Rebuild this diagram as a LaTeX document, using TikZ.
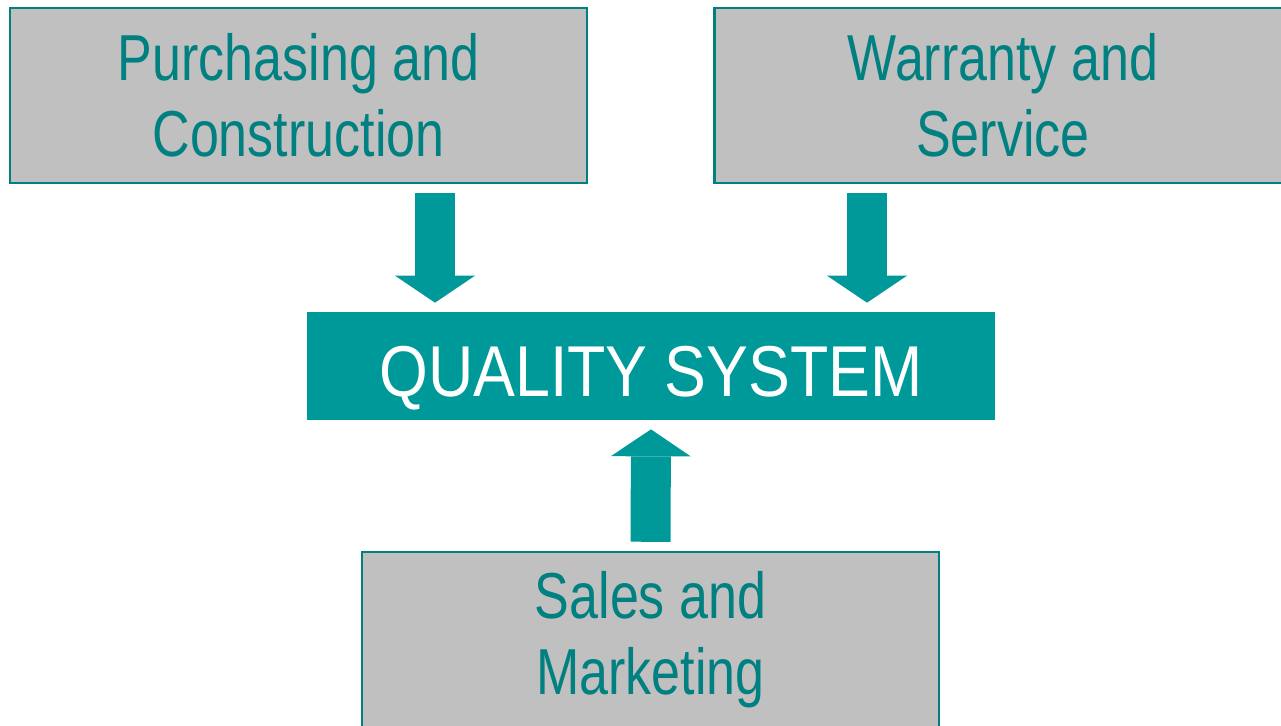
\documentclass[tikz,border=0pt]{standalone}
\usepackage{fontspec}
\setmainfont{Liberation Sans}[FakeStretch=0.8]
\newfontfamily\qsfont{Liberation Sans}[FakeStretch=0.87]
\usetikzlibrary{arrows.meta}
\definecolor{tealline}{HTML}{008080}
\definecolor{tealfill}{HTML}{009999}
\definecolor{boxgray}{HTML}{C0C0C0}
\tikzset{
  dept/.style={draw=tealline, line width=0.05cm, fill=boxgray, text=tealline,
    minimum width=11.54cm, minimum height=3.5cm, inner sep=0pt, align=center,
    font=\fontsize{37}{43}\selectfont},
  core/.style={fill=tealfill, text=white, minimum width=13.76cm,
    minimum height=2.16cm, inner sep=0pt, text height=1.2cm, text depth=0cm,
    font=\qsfont\fontsize{41}{48}\selectfont},
  flow/.style={draw=tealfill, line width=0.8cm,
    -{Triangle[length=0.54cm, width=1.6cm, line width=0pt]},
    shorten <=0.18cm, shorten >=0.18cm}
}
\begin{document}
\begin{tikzpicture}[x=0.02cm, y=-0.02cm]
\clip (0,0) rectangle (1281,725);
\node[dept] (purch) at (298.5,95.5) {Purchasing and\\Construction};
\node[dept] (warr) at (1003,95.5) {Warranty and\\Service};
\node[core] (qual) at (651,366) {QUALITY SYSTEM};
\node[dept] (sales) at (650.5,639.5) {Sales and\\Marketing};
% arrow columns
\coordinate (lcol) at (435,0);
\coordinate (rcol) at (867,0);
\draw[flow] (purch.south -| lcol) -- (qual.north -| lcol);
\draw[flow] (warr.south -| rcol) -- (qual.north -| rcol);
\draw[flow] (sales.north) -- (qual.south);
\end{tikzpicture}
\end{document}
